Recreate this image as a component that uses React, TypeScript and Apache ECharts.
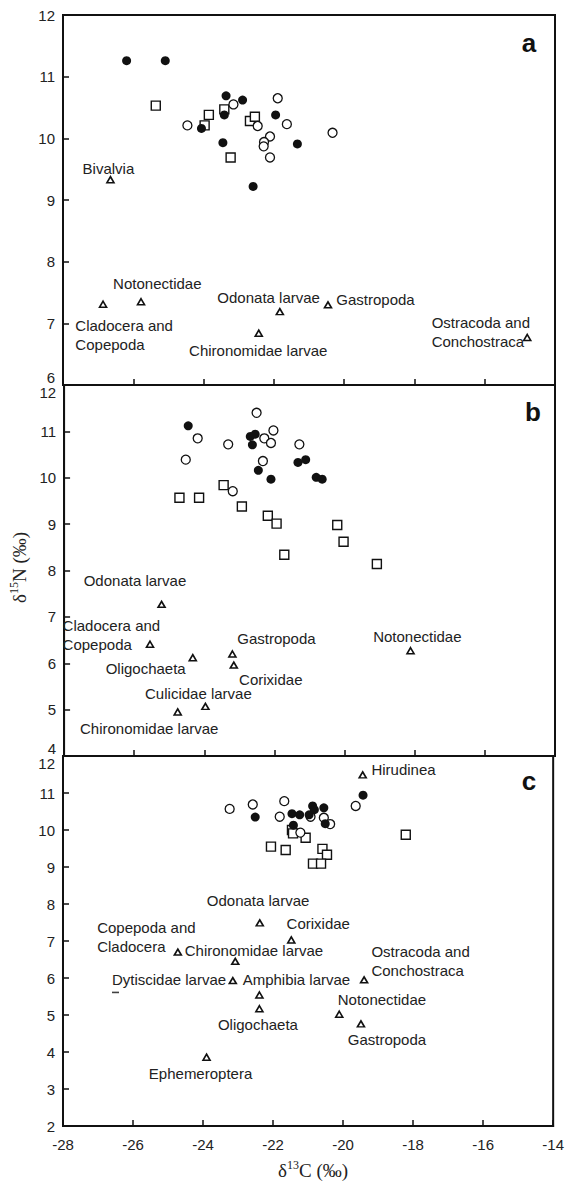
import React, { useEffect, useRef } from "react";
import * as echarts from "echarts";

// ---------------- Data ----------------
const xMin = -28;
const xMax = -14;
const xStep = 2;

// Panel a
const aFilledX = [-26.19, -25.09, -23.36, -22.89, -23.41, -24.06, -23.45, -22.59, -21.95, -21.33];
const aFilledY = [11.26, 11.26, 10.69, 10.62, 10.38, 10.16, 9.93, 9.22, 10.38, 9.91];
const aOpenX = [-24.46, -23.15, -21.89, -22.46, -21.63, -22.11, -22.28, -22.29, -22.11, -20.33];
const aOpenY = [10.21, 10.55, 10.65, 10.2, 10.23, 10.03, 9.94, 9.87, 9.69, 10.09];
const aSquareX = [-25.36, -23.85, -23.97, -23.41, -23.23, -22.68, -22.54];
const aSquareY = [10.53, 10.38, 10.21, 10.47, 9.69, 10.28, 10.35];
const aTaxa = [
  "Bivalvia",
  "Cladocera and\nCopepoda",
  "Notonectidae",
  "Chironomidae larvae",
  "Odonata larvae",
  "Gastropoda",
  "Ostracoda and\nConchostraca",
];
const aTaxaX = [-26.65, -26.86, -25.78, -22.43, -21.83, -20.46, -14.79];
const aTaxaY = [9.33, 7.31, 7.35, 6.84, 7.19, 7.3, 6.77];

// Panel b
const bFilledX = [-24.46, -22.69, -22.55, -22.63, -22.46, -22.1, -21.33, -21.11, -20.81, -20.64];
const bFilledY = [11.12, 10.89, 10.94, 10.71, 10.16, 9.97, 10.33, 10.39, 10.01, 9.97];
const bOpenX = [-24.19, -24.53, -23.32, -22.03, -22.29, -22.1, -22.33, -21.29, -23.19, -22.51];
const bOpenY = [10.85, 10.39, 10.72, 11.02, 10.85, 10.75, 10.36, 10.72, 9.71, 11.4];
const bSquareX = [-24.71, -24.15, -23.45, -22.93, -22.19, -21.94, -20.21, -20.03, -21.72, -19.08];
const bSquareY = [9.57, 9.57, 9.84, 9.38, 9.18, 9.01, 8.98, 8.62, 8.34, 8.14];
const bTaxa = [
  "Odonata larvae",
  "Cladocera and\nCopepoda",
  "Oligochaeta",
  "Gastropoda",
  "Corixidae",
  "Culicidae larvae",
  "Chironomidae larvae",
  "Notonectidae",
];
const bTaxaX = [-25.22, -25.55, -24.33, -23.2, -23.16, -23.97, -24.76, -18.12];
const bTaxaY = [7.27, 6.41, 6.12, 6.2, 5.96, 5.07, 4.95, 6.27];

// Panel c
const cFilledX = [-22.51, -21.46, -21.24, -20.97, -20.87, -20.82, -20.55, -21.42, -20.51, -19.43];
const cFilledY = [10.35, 10.44, 10.41, 10.41, 10.65, 10.55, 10.6, 10.13, 10.17, 10.94];
const cOpenX = [-23.24, -22.58, -21.68, -21.81, -20.93, -20.55, -20.37, -19.64, -21.22];
const cOpenY = [10.57, 10.69, 10.78, 10.36, 10.36, 10.33, 10.16, 10.65, 9.93];
const cSquareX = [-21.46, -21.43, -21.07, -22.06, -21.64, -20.59, -20.46, -20.86, -20.63, -18.21];
const cSquareY = [10.0, 9.91, 9.79, 9.55, 9.46, 9.49, 9.33, 9.09, 9.09, 9.87];
const cTaxa = [
  "Hirudinea",
  "Odonata larvae",
  "Corixidae",
  "Copepoda and\nCladocera",
  "Chironomidae larvae",
  "Dytiscidae larvae",
  "Amphibia larvae",
  "Oligochaeta",
  "Ostracoda and\nConchostraca",
  "Notonectidae",
  "Gastropoda",
  "Ephemeroptera",
];
const cTaxaX = [-19.44, -22.38, -21.48, -24.72, -23.08, -23.15, -22.39, -22.39, -19.4, -20.11, -19.49, -23.9];
const cTaxaY = [11.49, 7.49, 7.03, 6.7, 6.45, 5.93, 5.54, 5.17, 5.95, 5.02, 4.76, 3.86];
const cDashX = [-26.5];
const cDashY = [5.61];

const panelLetters = ["a", "b", "c"];
const yRanges = [
  [6, 12],
  [4, 12],
  [2, 12],
];

// ---------------- Layout (label placement, not data) ----------------
type Place = [string, number, number];
const aPlace: Place[] = [
  ["center", -2, -11],
  ["left", -27.7, 30.5],
  ["center", 16.3, -18.7],
  ["center", -0.5, 17],
  ["center", -11.2, -14.3],
  ["left", 8.3, -5],
  ["left", -95.6, -5.4],
];
const bPlace: Place[] = [
  ["center", -26.6, -24.3],
  ["left", -87.4, -8.8],
  ["center", -47.1, 11.3],
  ["center", 44, -15],
  ["center", 37, 14],
  ["center", -7, -12.4],
  ["center", -28.5, 16.7],
  ["center", 6.8, -14],
];
const cPlace: Place[] = [
  ["left", 8.7, -5.7],
  ["center", -1.7, -22],
  ["center", 27, -16],
  ["left", -80.7, -15],
  ["center", 18.7, -10.6],
  ["right", -6.7, -0.7],
  ["center", 37, -15.7],
  ["center", -1.5, 15.3],
  ["left", 7.3, -19.2],
  ["center", 42.7, -14.3],
  ["center", 26, 15.3],
  ["center", -6, 16],
];

const INK = "#111";
const TEXT = "#222";
const SANS = "'Liberation Sans', Arial, Helvetica, sans-serif";
const SERIF = "'Liberation Serif', 'Times New Roman', serif";

const GRID_LEFT = 63;
const GRID_WIDTH = 492;
const gridTops = [15, 385, 756];
const gridHeights = [370, 371, 370];

function pts(xs: number[], ys: number[]) {
  return xs.map((x, i) => [x, ys[i]]);
}

function panelSeries(
  idx: number,
  fx: number[],
  fy: number[],
  ox: number[],
  oy: number[],
  sx: number[],
  sy: number[],
  tn: string[],
  tx: number[],
  ty: number[],
  place: Place[]
) {
  return [
    {
      type: "scatter",
      name: "squares " + panelLetters[idx],
      xAxisIndex: idx,
      yAxisIndex: idx,
      data: pts(sx, sy),
      symbol: "rect",
      symbolSize: 9,
      itemStyle: { color: "#fff", borderColor: INK, borderWidth: 1.4, opacity: 1 },
      z: 3,
    },
    {
      type: "scatter",
      name: "open circles " + panelLetters[idx],
      xAxisIndex: idx,
      yAxisIndex: idx,
      data: pts(ox, oy),
      symbol: "circle",
      symbolSize: 9,
      itemStyle: { color: "#fff", borderColor: INK, borderWidth: 1.3, opacity: 1 },
      z: 4,
    },
    {
      type: "scatter",
      name: "filled circles " + panelLetters[idx],
      xAxisIndex: idx,
      yAxisIndex: idx,
      data: pts(fx, fy),
      symbol: "circle",
      symbolSize: 9,
      itemStyle: { color: INK, opacity: 1 },
      z: 5,
    },
    {
      type: "scatter",
      name: "invertebrates " + panelLetters[idx],
      xAxisIndex: idx,
      yAxisIndex: idx,
      symbol: "triangle",
      symbolSize: [7, 6],
      itemStyle: { color: "#fff", borderColor: INK, borderWidth: 1.6, opacity: 1 },
      z: 6,
      data: tn.map((n, i) => ({
        name: n,
        value: [tx[i], ty[i]],
        label: {
          show: true,
          formatter: "{b}",
          position: "inside",
          align: place[i][0],
          verticalAlign: "middle",
          offset: [place[i][1], place[i][2]],
          fontSize: 15,
          lineHeight: 19,
          color: TEXT,
          fontFamily: SANS,
        },
      })),
    },
  ];
}

function yAxisFor(idx: number, shiftMin: boolean, shiftMax: boolean, extra: any = {}) {
  const [min, max] = yRanges[idx];
  return {
    type: "value",
    gridIndex: idx,
    min,
    max,
    interval: 1,
    axisLine: { show: true, lineStyle: { color: INK, width: 2 } },
    axisTick: { show: true, inside: true, length: 6, lineStyle: { color: INK, width: 1.5 } },
    splitLine: { show: false },
    axisLabel: {
      show: true,
      fontSize: 15,
      color: TEXT,
      fontFamily: SANS,
      margin: 8,
      formatter: (v: number) =>
        v === min && shiftMin ? `{lo|${v}}` : v === max && shiftMax ? `{hi|${v}}` : `${v}`,
      rich: {
        lo: { fontSize: 15, color: TEXT, fontFamily: SANS, padding: [0, 0, 15, 0] },
        hi: { fontSize: 15, color: TEXT, fontFamily: SANS, padding: [15, 0, 0, 0] },
      },
    },
    ...extra,
  };
}

function xAxisFor(idx: number, extra: any = {}) {
  return {
    type: "value",
    gridIndex: idx,
    min: xMin,
    max: xMax,
    interval: xStep,
    axisLine: { show: true, lineStyle: { color: INK, width: 2 } },
    axisTick: { show: true, inside: true, length: 6, lineStyle: { color: INK, width: 1.5 } },
    splitLine: { show: false },
    axisLabel: {
      show: idx === 2,
      fontSize: 15,
      color: TEXT,
      fontFamily: SANS,
      margin: 11,
    },
    ...extra,
  };
}

const titleRich = {
  d: { fontSize: 19, fontFamily: SERIF, color: TEXT, lineHeight: 22 },
  s: { fontSize: 12, fontFamily: SERIF, color: TEXT, lineHeight: 13, verticalAlign: "top" },
  n: { fontSize: 19, fontFamily: SERIF, color: TEXT, lineHeight: 22 },
};

export default function App() {
  const ref = useRef<HTMLDivElement>(null);

  useEffect(() => {
    if (!ref.current) return;
    const chart = echarts.init(ref.current, undefined, { renderer: "svg" });

    const option: any = {
      animation: false,
      backgroundColor: "#fff",
      grid: gridTops.map((t, i) => ({
        left: GRID_LEFT,
        top: t,
        width: GRID_WIDTH,
        height: gridHeights[i],
        show: true,
        borderColor: INK,
        borderWidth: 2,
        backgroundColor: "transparent",
      })),
      xAxis: [
        xAxisFor(0),
        xAxisFor(1),
        xAxisFor(2, {
          name: "{d|δ}{s|13}{n|C (‰)}",
          nameLocation: "middle",
          nameGap: 33,
          nameTextStyle: { rich: titleRich, padding: [0, 0, 0, 10] },
        }),
      ],
      yAxis: [
        yAxisFor(0, true, false),
        yAxisFor(1, true, true, {
          name: "{d|δ}{s|15}{n|N (‰)}",
          nameLocation: "middle",
          nameGap: 31,
          nameTextStyle: { rich: titleRich, padding: [0, 0, 0, 6] },
        }),
        yAxisFor(2, false, true),
      ],
      series: [
        ...panelSeries(0, aFilledX, aFilledY, aOpenX, aOpenY, aSquareX, aSquareY, aTaxa, aTaxaX, aTaxaY, aPlace),
        ...panelSeries(1, bFilledX, bFilledY, bOpenX, bOpenY, bSquareX, bSquareY, bTaxa, bTaxaX, bTaxaY, bPlace),
        ...panelSeries(2, cFilledX, cFilledY, cOpenX, cOpenY, cSquareX, cSquareY, cTaxa, cTaxaX, cTaxaY, cPlace),
        {
          type: "scatter",
          name: "dash c",
          xAxisIndex: 2,
          yAxisIndex: 2,
          data: pts(cDashX, cDashY),
          symbol: "rect",
          symbolSize: [7, 1.6],
          itemStyle: { color: INK },
        },
      ],
      graphic: [
        { type: "text", x: 529, y: 43, style: { text: panelLetters[0], fontSize: 26, fontWeight: "bold", fontFamily: SANS, fill: INK, align: "center", verticalAlign: "middle" } },
        { type: "text", x: 533, y: 412, style: { text: panelLetters[1], fontSize: 26, fontWeight: "bold", fontFamily: SANS, fill: INK, align: "center", verticalAlign: "middle" } },
        { type: "text", x: 529, y: 781, style: { text: panelLetters[2], fontSize: 26, fontWeight: "bold", fontFamily: SANS, fill: INK, align: "center", verticalAlign: "middle" } },
      ],
    };

    chart.setOption(option);
    return () => {
      chart.dispose();
    };
  }, []);

  return (
    <div
      ref={ref}
      style={{ position: "fixed", left: 0, top: 0, width: 567, height: 1183, background: "#fff" }}
    />
  );
}
